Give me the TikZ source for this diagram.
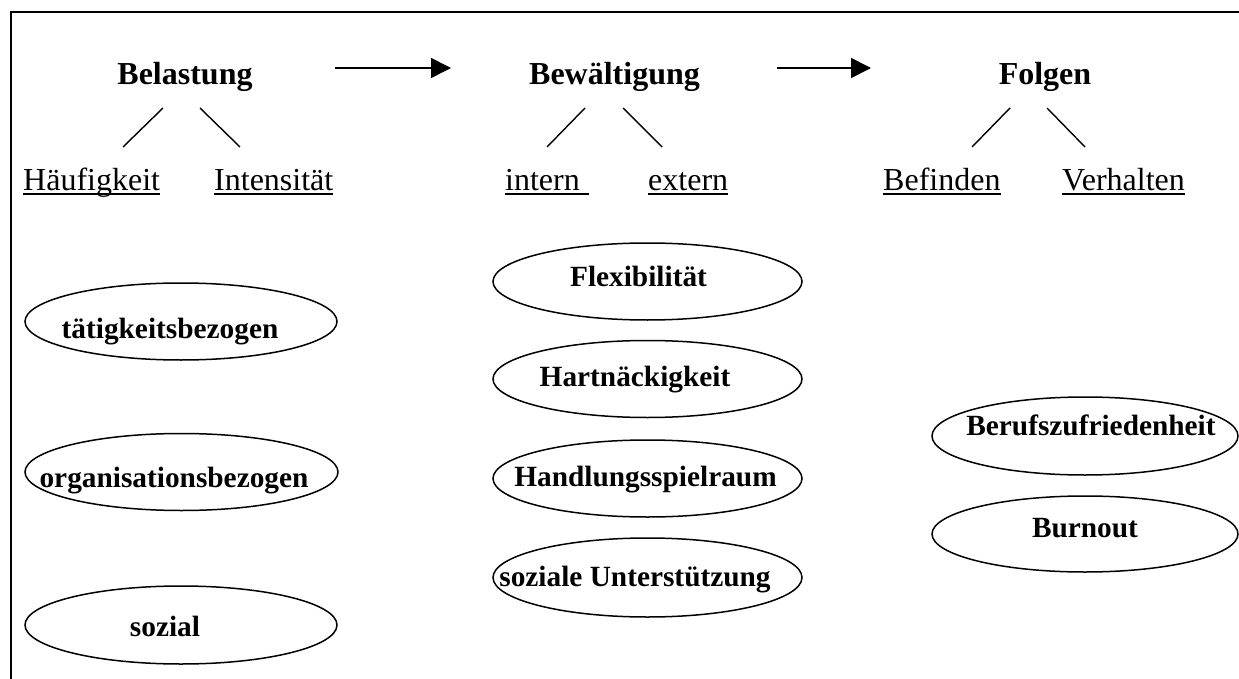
\documentclass[tikz,border=0pt]{standalone}
\usepackage{fontspec}
\setmainfont{Liberation Serif}
\usetikzlibrary{shapes.geometric,arrows.meta}
\tikzset{
  oval/.style={draw, ellipse, line width=1.5pt, inner sep=0pt, minimum width=310pt, minimum height=77pt},
  ovaltext/.style={anchor=base, inner sep=0pt, font=\fontsize{29.33}{34}\selectfont\bfseries},
  head/.style={anchor=base, inner sep=0pt, font=\fontsize{32}{38}\selectfont\bfseries},
  sub/.style={anchor=base west, inner sep=0pt, font=\fontsize{32}{38}\selectfont},
  uline/.style={line width=1.6pt},
  branch/.style={line width=1.4pt},
  flow/.style={line width=1.6pt, -{Triangle[length=20pt,width=20pt]}}
}
\begin{document}
\begin{tikzpicture}[x=1pt,y=-1pt]
\useasboundingbox (0,0) rectangle (1239,679);
% frame
\draw[line width=2pt] (10.5,681) -- (10.5,12) -- (1241,12);

% headers
\node[head] (bel) at (185,85) {Belastung};
\node[head] (bew) at (614.5,85) {Bewältigung};
\node[head] (fol) at (1045,85) {Folgen};

% flow arrows
\coordinate (a1s) at (335,68);
\coordinate (a1e) at (451,68);
\coordinate (a2s) at (777,68);
\coordinate (a2e) at (871,68);
\draw[flow] (a1s) -- (a1e);
\draw[flow] (a2s) -- (a2e);

% branch lines
\coordinate (b1a) at (123,147); \coordinate (b1b) at (163,108);
\coordinate (b2a) at (200,108); \coordinate (b2b) at (240,147);
\coordinate (b3a) at (547,147); \coordinate (b3b) at (585,108);
\coordinate (b4a) at (623,108); \coordinate (b4b) at (662,147);
\coordinate (b5a) at (972,147); \coordinate (b5b) at (1010,108);
\coordinate (b6a) at (1047,108); \coordinate (b6b) at (1085,147);
\draw[branch] (b1a) -- (b1b);
\draw[branch] (b2a) -- (b2b);
\draw[branch] (b3a) -- (b3b);
\draw[branch] (b4a) -- (b4b);
\draw[branch] (b5a) -- (b5b);
\draw[branch] (b6a) -- (b6b);

% sub labels
\node[sub] (hae) at (23,190) {Häufigkeit};
\node[sub] (int) at (214,190) {Intensität};
\node[sub] (inn) at (505,190) {intern};
\node[sub] (ext) at (648,190) {extern};
\node[sub] (bef) at (883,190) {Befinden};
\node[sub] (ver) at (1062,190) {Verhalten};
\draw[uline] ([yshift=-4pt]hae.base west) -- ([yshift=-4pt]hae.base east);
\draw[uline] ([yshift=-4pt]int.base west) -- ([yshift=-4pt]int.base east);
\draw[uline] ([yshift=-4pt]inn.base west) -- ([xshift=9pt,yshift=-4pt]inn.base east);
\draw[uline] ([yshift=-4pt]ext.base west) -- ([yshift=-4pt]ext.base east);
\draw[uline] ([yshift=-4pt]bef.base west) -- ([yshift=-4pt]bef.base east);
\draw[uline] ([yshift=-4pt]ver.base west) -- ([yshift=-4pt]ver.base east);

% Belastung ovals
\node[oval, minimum width=312pt] (e1) at (181,321.5) {};
\node[ovaltext] (t1) at (170,338) {tätigkeitsbezogen};
\node[oval, minimum width=313pt] (e2) at (181.5,472) {};
\node[ovaltext] (t2) at (174,487) {organisationsbezogen};
\node[oval, minimum width=312pt, minimum height=78pt] (e3) at (181,625) {};
\node[ovaltext] (t3) at (165,636) {sozial};

% Bewaeltigung ovals
\node[oval, minimum width=309pt] (e4) at (647.5,281.5) {};
\node[ovaltext] (t4) at (638.5,286.7) {Flexibilität};
\node[oval, minimum width=309pt] (e5) at (647.5,379) {};
\node[ovaltext] (t5) at (635,386.7) {Hartnäckigkeit};
\node[oval, minimum width=309pt] (e6) at (647.5,478.5) {};
\node[ovaltext] (t6) at (645.5,486.7) {Handlungsspielraum};
\node[oval, minimum width=309pt, minimum height=79pt] (e7) at (647.5,577.5) {};
\node[ovaltext] (t7) at (635,586.7) {soziale Unterstützung};

% Folgen ovals
\node[oval, minimum width=306pt, minimum height=78pt] (e8) at (1085,436) {};
\node[ovaltext] (t8) at (1091,435) {Berufszufriedenheit};
\node[oval, minimum width=306pt, minimum height=76pt] (e9) at (1085,534) {};
\node[ovaltext] (t9) at (1085,537) {Burnout};
\end{tikzpicture}
\end{document}
